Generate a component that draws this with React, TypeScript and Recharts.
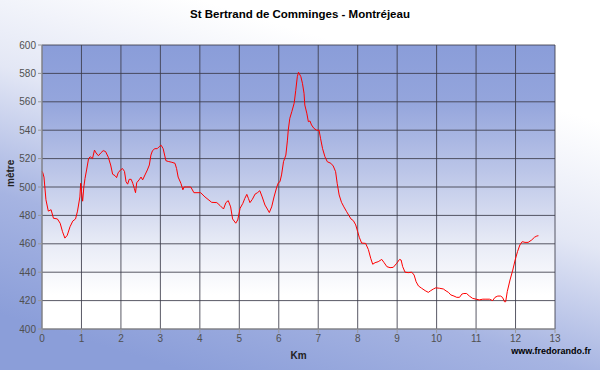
import React from "react";
import { LineChart, Line, XAxis, YAxis, CartesianGrid } from "recharts";

const TITLE = "St Bertrand de Comminges - Montréjeau";
const X_LABEL = "Km";
const Y_LABEL = "mètre";
const CREDIT = "www.fredorando.fr";

const xTicks = [0, 1, 2, 3, 4, 5, 6, 7, 8, 9, 10, 11, 12, 13];
const yTicks = [400, 420, 440, 460, 480, 500, 520, 540, 560, 580, 600];

const km = [
  0.0, 0.02, 0.05, 0.1, 0.16, 0.23, 0.29, 0.39, 0.46, 0.52, 0.58, 0.64, 0.71, 0.78, 0.85, 0.9, 0.96, 0.98, 1.0, 1.03,
  1.06, 1.09, 1.13, 1.18, 1.22, 1.28, 1.33, 1.37, 1.43, 1.49, 1.55, 1.61, 1.68, 1.74, 1.79, 1.85, 1.89, 1.93, 1.99, 2.04,
  2.09, 2.13, 2.17, 2.21, 2.26, 2.3, 2.34, 2.37, 2.4, 2.46, 2.51, 2.55, 2.61, 2.67, 2.72, 2.76, 2.8, 2.86, 2.92, 2.97,
  3.02, 3.07, 3.14, 3.2, 3.29, 3.37, 3.41, 3.45, 3.52, 3.57, 3.6, 3.67, 3.77, 3.85, 4.02, 4.13, 4.3, 4.43, 4.51, 4.6,
  4.66, 4.72, 4.78, 4.83, 4.91, 4.96, 5.02, 5.09, 5.14, 5.19, 5.23, 5.27, 5.33, 5.4, 5.46, 5.52, 5.58, 5.65, 5.71, 5.76,
  5.82, 5.88, 5.95, 5.99, 6.03, 6.07, 6.12, 6.18, 6.22, 6.24, 6.28, 6.33, 6.39, 6.43, 6.47, 6.5, 6.56, 6.6, 6.64, 6.66,
  6.71, 6.75, 6.79, 6.83, 6.89, 6.96, 7.02, 7.06, 7.11, 7.17, 7.23, 7.32, 7.38, 7.44, 7.48, 7.53, 7.59, 7.65, 7.72, 7.78,
  7.83, 7.89, 7.95, 8.0, 8.04, 8.1, 8.2, 8.27, 8.33, 8.38, 8.44, 8.52, 8.61, 8.67, 8.74, 8.82, 8.9, 8.99, 9.06, 9.1,
  9.14, 9.2, 9.28, 9.37, 9.43, 9.48, 9.54, 9.62, 9.71, 9.79, 9.85, 9.92, 9.98, 10.07, 10.17, 10.24, 10.3, 10.36, 10.44, 10.51,
  10.58, 10.64, 10.69, 10.76, 10.83, 10.91, 11.0, 11.08, 11.17, 11.25, 11.34, 11.42, 11.48, 11.55, 11.62, 11.67, 11.72, 11.75, 11.79, 11.86,
  11.93, 11.99, 12.05, 12.11, 12.17, 12.24, 12.32, 12.41, 12.48, 12.54, 12.58,
];

const elevation = [
  511, 510, 507, 491, 483, 484, 478, 477.5, 474.5, 468.5, 464, 466, 472, 476, 477.5, 483, 493, 502.6, 497, 490,
  500, 506, 512, 520, 521.3, 520, 526, 524, 522, 524, 525.6, 525, 521, 515.5, 509, 508, 506.6, 510, 512, 513,
  511, 503.7, 502, 505.4, 505.4, 502.6, 499, 496, 503, 505, 507, 505, 508.5, 512, 515.5, 522.5, 525.6, 527, 527, 528.4,
  529.4, 527, 518.5, 518, 517.4, 516.7, 513, 507, 502.6, 498, 500, 500, 500, 496, 496, 493, 489.2, 489, 487, 484.5,
  489, 490.4, 486, 477.5, 474.5, 476.8, 485, 488.5, 492, 494.8, 492, 489, 491.3, 495, 496, 497.4, 493, 487.3, 484.5, 482,
  486, 493, 500, 503, 503.7, 508.5, 517.8, 522.5, 533, 540, 548.4, 553, 559, 568, 577.7, 580.8, 577.7, 573, 566, 557.7,
  552, 546, 546.5, 543.7, 541.3, 540, 540, 534, 527, 521.3, 517.8, 516.7, 514.8, 510.8, 502.6, 494.4, 489.2, 486, 482.6, 479.8,
  477.5, 476.3, 473.3, 468.5, 464.6, 460.5, 460.3, 456, 449.8, 445.6, 446.7, 447.4, 449, 446.7, 443.9, 443.2, 443.4, 446.3, 449, 448.6,
  443.9, 440, 439.7, 440, 438, 433.3, 430.3, 428.7, 427, 425.8, 427, 428.2, 429, 428.7, 428.2, 426.8, 425.8, 424, 423.2, 422.3,
  422.3, 424.6, 425, 425, 423.2, 421.6, 421, 420.5, 421, 421, 421, 420, 422.3, 423.2, 423.2, 422.3, 419.2, 419.2, 426.3, 434.5,
  441.5, 448.6, 454.5, 459.2, 461.5, 461, 461, 462.7, 464.6, 465.5, 465.7,
];

const data = km.map((k, i) => ({ km: k, elev: elevation[i] }));

const FONT = "'Liberation Sans', Arial, sans-serif";

export default function App() {
  return (
    <div
      style={{
        position: "absolute",
        left: 0,
        top: 0,
        width: 600,
        height: 370,
        background: "linear-gradient(197deg, #ffffff 22%, #e3e7f5 45%, #a6b4e2 68%, #8b9ed9 90%)",
        fontFamily: FONT,
        overflow: "hidden",
      }}
    >
      <svg width={0} height={0} style={{ position: "absolute" }}>
        <defs>
          <linearGradient id="plotGrad" x1="0" y1="0" x2="0" y2="1">
            <stop offset="0%" stopColor="#8a9dd9" />
            <stop offset="20%" stopColor="#94a5dc" />
            <stop offset="45%" stopColor="#bcc6e8" />
            <stop offset="70%" stopColor="#e8ebf6" />
            <stop offset="88%" stopColor="#ffffff" />
            <stop offset="100%" stopColor="#ffffff" />
          </linearGradient>
        </defs>
      </svg>
      <div
        style={{
          position: "absolute",
          left: 0,
          width: 600,
          top: 8,
          textAlign: "center",
          fontSize: 11.5,
          fontWeight: "bold",
          color: "#000",
        }}
      >
        {TITLE}
      </div>
      <div
        style={{
          position: "absolute",
          right: 9,
          top: 346,
          fontSize: 9,
          fontWeight: "bold",
          color: "#000",
          whiteSpace: "nowrap",
        }}
      >
        {CREDIT}
      </div>
      <div style={{ position: "absolute", left: 0, top: 0 }}>
        <LineChart
          width={600}
          height={370}
          data={data}
          margin={{ top: 45, right: 45, bottom: 11, left: 2 }}
        >
          <CartesianGrid
            stroke="#3c3c4a"
            strokeOpacity={0.85}
            fill="url(#plotGrad)"
            fillOpacity={1}
            horizontalValues={yTicks}
            verticalValues={xTicks}
          />
          <XAxis
            dataKey="km"
            type="number"
            domain={[0, 13]}
            ticks={xTicks}
            interval={0}
            height={30}
            stroke="#9a9a9a"
            tickSize={4}
            tick={{ fontSize: 10, fill: "#505050", fontFamily: FONT }}
            label={{ value: X_LABEL, position: "insideBottom", offset: 0, fontSize: 10, fontWeight: "bold", fill: "#222", fontFamily: FONT }}
          />
          <YAxis
            type="number"
            domain={[400, 600]}
            ticks={yTicks}
            interval={0}
            width={40}
            stroke="#9a9a9a"
            tickSize={4}
            tick={{ fontSize: 10, fill: "#505050", fontFamily: FONT }}
            label={{ value: Y_LABEL, angle: -90, position: "insideLeft", offset: 8, fontSize: 10, fontWeight: "bold", fill: "#222", fontFamily: FONT }}
          />
          <Line
            dataKey="elev"
            type="linear"
            stroke="#ff0000"
            strokeWidth={1}
            dot={false}
            isAnimationActive={false}
          />
        </LineChart>
      </div>
    </div>
  );
}
